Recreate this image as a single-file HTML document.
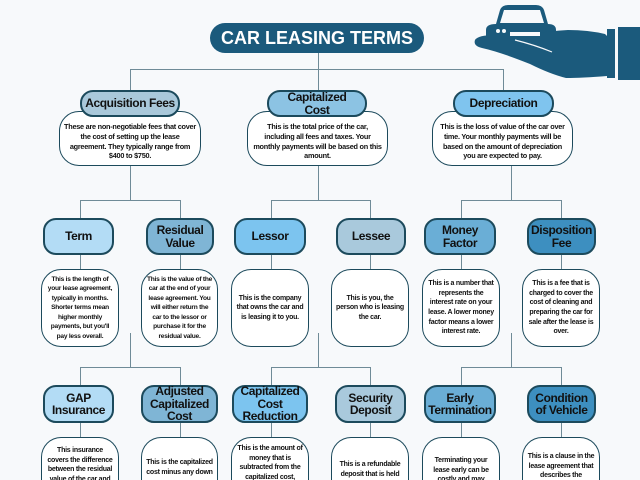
<!DOCTYPE html>
<html><head><meta charset="utf-8"><style>
html{width:640px;height:480px;overflow:hidden}
body{margin:0;width:640px;height:480px;background:#f7f9fb;position:relative;overflow:hidden;font-family:"Liberation Sans",sans-serif}
.a{position:absolute;box-sizing:border-box}
.h{border:2px solid #1c4a5c;border-radius:13px;display:flex;align-items:center;justify-content:center;text-align:center;font-weight:bold;color:#111;font-size:12px;line-height:12.5px;letter-spacing:-0.4px;white-space:nowrap}
.d{background:#fff;border:1.5px solid #1c4a5c;border-radius:20px;display:flex;align-items:center;justify-content:center;text-align:center;font-weight:bold;color:#111;font-size:7px;line-height:9.6px;letter-spacing:-0.25px;padding:0 4px;overflow:hidden}
.c{height:43px!important;border-bottom:none;border-bottom-left-radius:0;border-bottom-right-radius:0}
.l{position:absolute;background:#6f8b97}
</style></head><body>
<!-- connectors -->
<div class="l" style="left:318px;top:52px;width:1px;height:18px"></div>
<div class="l" style="left:130px;top:69px;width:374px;height:1px"></div>
<div class="l" style="left:130px;top:69px;width:1px;height:22px"></div>
<div class="l" style="left:318px;top:69px;width:1px;height:22px"></div>
<div class="l" style="left:503px;top:69px;width:1px;height:22px"></div>
<div class="l" style="left:130px;top:166px;width:1px;height:34px"></div>
<div class="l" style="left:318px;top:166px;width:1px;height:34px"></div>
<div class="l" style="left:511px;top:166px;width:1px;height:34px"></div>
<div class="l" style="left:80px;top:200px;width:100px;height:1px"></div>
<div class="l" style="left:271px;top:200px;width:99px;height:1px"></div>
<div class="l" style="left:461px;top:200px;width:100px;height:1px"></div>
<div class="l" style="left:80px;top:200px;width:1px;height:70px"></div>
<div class="l" style="left:180px;top:200px;width:1px;height:70px"></div>
<div class="l" style="left:271px;top:200px;width:1px;height:70px"></div>
<div class="l" style="left:370px;top:200px;width:1px;height:70px"></div>
<div class="l" style="left:461px;top:200px;width:1px;height:70px"></div>
<div class="l" style="left:561px;top:200px;width:1px;height:70px"></div>
<div class="l" style="left:130px;top:333px;width:1px;height:34px"></div>
<div class="l" style="left:318px;top:333px;width:1px;height:34px"></div>
<div class="l" style="left:511px;top:333px;width:1px;height:34px"></div>
<div class="l" style="left:80px;top:367px;width:100px;height:1px"></div>
<div class="l" style="left:271px;top:367px;width:99px;height:1px"></div>
<div class="l" style="left:461px;top:367px;width:100px;height:1px"></div>
<div class="l" style="left:80px;top:367px;width:1px;height:75px"></div>
<div class="l" style="left:180px;top:367px;width:1px;height:75px"></div>
<div class="l" style="left:271px;top:367px;width:1px;height:75px"></div>
<div class="l" style="left:370px;top:367px;width:1px;height:75px"></div>
<div class="l" style="left:461px;top:367px;width:1px;height:75px"></div>
<div class="l" style="left:561px;top:367px;width:1px;height:75px"></div>

<!-- title -->
<div class="a" style="left:210px;top:23px;width:214px;height:30px;background:#1b5a7c;border-radius:15px;color:#fff;font-weight:bold;font-size:18px;display:flex;align-items:center;justify-content:center">CAR LEASING TERMS</div>

<!-- hand icon -->
<svg class="a" style="left:460px;top:0" width="180" height="100" viewBox="0 0 180 100">
<g fill="#1b5a7c">
<path d="M36 24 L40 10 Q42 5 48 5 L76 5 Q82 5 84 10 L88 24 Q96 24 96 30 L96 36 L26 36 L26 30 Q26 24 36 24 Z"/>
<path d="M15 40 Q18 35 35 35 L70 34 Q90 31 108 30 Q128 30 145 34 L147 36 L147 76 Q122 78 106 78 Q90 74 70 64 Q40 52 22 48 Q13 46 15 40 Z"/>
<rect x="147" y="29" width="8" height="49"/>
<rect x="158" y="27" width="22" height="53"/>
</g>
<path d="M44 10 L80 10 L84 23 L40 23 Z" fill="#f7f9fb"/>
<circle cx="38" cy="31" r="2" fill="#f7f9fb"/><circle cx="44" cy="31" r="2" fill="#f7f9fb"/>
<path d="M50 32 L80 32 L80 36 L50 36Z" fill="#f7f9fb"/>
<path d="M55 40 Q75 45 92 52" stroke="#f7f9fb" stroke-width="1.2" fill="none"/>
</svg>

<!-- row 1 -->
<div class="a d" style="left:59px;top:111px;width:142px;height:55px;padding-top:6px;font-size:7.3px">These are non-negotiable fees that cover the cost of setting up the lease agreement. They typically range from $400 to $750.</div>
<div class="a h" style="left:80px;top:90px;width:100px;height:27px;background:#a9c8da">Acquisition Fees</div>
<div class="a d" style="left:247px;top:111px;width:141px;height:55px;padding-top:6px;font-size:7.3px">This is the total price of the car, including all fees and taxes. Your monthly payments will be based on this amount.</div>
<div class="a h" style="left:267px;top:90px;width:100px;height:27px;background:#8cc3e3">Capitalized<br>Cost</div>
<div class="a d" style="left:432px;top:111px;width:141px;height:55px;padding-top:6px;font-size:7.3px">This is the loss of value of the car over time. Your monthly payments will be based on the amount of depreciation you are expected to pay.</div>
<div class="a h" style="left:453px;top:90px;width:101px;height:27px;background:#7fc4ee">Depreciation</div>

<!-- row 2 -->
<div class="a h" style="left:43px;top:218px;width:71px;height:37px;background:#b3dcf5">Term</div>
<div class="a h" style="left:146px;top:218px;width:68px;height:37px;background:#7fb5d5">Residual<br>Value</div>
<div class="a h" style="left:234px;top:218px;width:72px;height:37px;background:#7cc4ef">Lessor</div>
<div class="a h" style="left:336px;top:218px;width:70px;height:37px;background:#a9c9dc">Lessee</div>
<div class="a h" style="left:424px;top:218px;width:72px;height:37px;background:#6aaed6">Money<br>Factor</div>
<div class="a h" style="left:527px;top:218px;width:69px;height:37px;background:#3d8fc0">Disposition<br>Fee</div>
<div class="a d" style="left:41px;top:269px;width:78px;height:78px;font-size:6.6px;line-height:9.4px">This is the length of your lease agreement, typically in months. Shorter terms mean higher monthly payments, but you'll pay less overall.</div>
<div class="a d" style="left:141px;top:269px;width:77px;height:78px;font-size:6.6px;line-height:9.4px">This is the value of the car at the end of your lease agreement. You will either return the car to the lessor or purchase it for the residual value.</div>
<div class="a d" style="left:231px;top:269px;width:78px;height:78px">This is the company that owns the car and is leasing it to you.</div>
<div class="a d" style="left:331px;top:269px;width:78px;height:78px">This is you, the person who is leasing the car.</div>
<div class="a d" style="left:422px;top:269px;width:78px;height:78px">This is a number that represents the interest rate on your lease. A lower money factor means a lower interest rate.</div>
<div class="a d" style="left:522px;top:269px;width:78px;height:78px">This is a fee that is charged to cover the cost of cleaning and preparing the car for sale after the lease is over.</div>

<!-- row 3 -->
<div class="a h" style="left:43px;top:385px;width:71px;height:38px;background:#b3dcf5">GAP<br>Insurance</div>
<div class="a h" style="left:141px;top:385px;width:77px;height:38px;background:#7fb5d5">Adjusted<br>Capitalized<br>Cost</div>
<div class="a h" style="left:232px;top:385px;width:76px;height:38px;background:#7cc4ef">Capitalized<br>Cost<br>Reduction</div>
<div class="a h" style="left:335px;top:385px;width:71px;height:38px;background:#a9c9dc">Security<br>Deposit</div>
<div class="a h" style="left:424px;top:385px;width:72px;height:38px;background:#6aaed6">Early<br>Termination</div>
<div class="a h" style="left:527px;top:385px;width:69px;height:38px;background:#3d8fc0">Condition<br>of Vehicle</div>
<div class="a d c" style="left:41px;top:437px;width:78px;align-items:flex-start;padding-top:8px">This insurance covers the difference between the residual value of the car and</div>
<div class="a d c" style="left:141px;top:437px;width:77px;align-items:flex-start;padding-top:20px">This is the capitalized cost minus any down</div>
<div class="a d c" style="left:231px;top:437px;width:78px;align-items:flex-start;padding-top:6px">This is the amount of money that is subtracted from the capitalized cost,</div>
<div class="a d c" style="left:331px;top:437px;width:78px;align-items:flex-start;padding-top:22px">This is a refundable deposit that is held by the lessor in case</div>
<div class="a d c" style="left:422px;top:437px;width:78px;align-items:flex-start;padding-top:18px">Terminating your lease early can be costly and may</div>
<div class="a d c" style="left:522px;top:437px;width:78px;align-items:flex-start;padding-top:14px">This is a clause in the lease agreement that describes the</div>
</body></html>
